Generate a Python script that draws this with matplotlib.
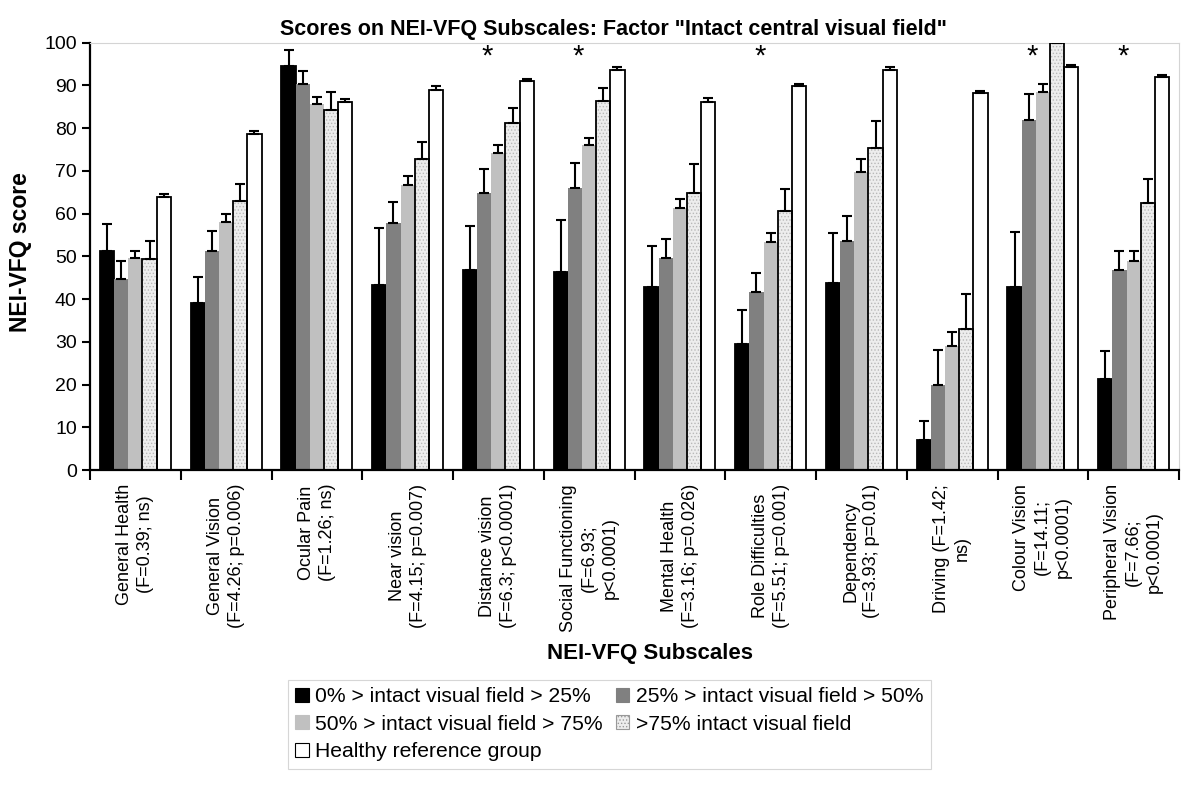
import matplotlib
matplotlib.use("Agg")
import matplotlib.pyplot as plt
from matplotlib.patches import Patch
import numpy as np

plt.rcParams["font.family"] = ["Liberation Sans", "DejaVu Sans"]
plt.rcParams["hatch.linewidth"] = 0.6

# Subscales (tick labels)
subscales = [
    "General Health\n(F=0.39; ns)",
    "General Vision\n(F=4.26; p=0.006)",
    "Ocular Pain\n(F=1.26; ns)",
    "Near vision\n(F=4.15; p=0.007)",
    "Distance vision\n(F=6.3; p<0.0001)",
    "Social Functioning\n(F=6.93;\np<0.0001)",
    "Mental Health\n(F=3.16; p=0.026)",
    "Role Difficulties\n(F=5.51; p=0.001)",
    "Dependency\n(F=3.93; p=0.01)",
    "Driving (F=1.42;\nns)",
    "Colour Vision\n(F=14.11;\np<0.0001)",
    "Peripheral Vision\n(F=7.66;\np<0.0001)",
]

group_labels = [
    "0% > intact visual field > 25%",
    "25% > intact visual field > 50%",
    "50% > intact visual field > 75%",
    ">75% intact visual field",
    "Healthy reference group",
]

# mean scores and upper error per group
vf_0_25 = [51.2, 39.1, 94.6, 43.4, 46.9, 46.4, 42.9, 29.4, 43.8, 7.0, 42.9, 21.3]
err_0_25 = [6.4, 6.0, 3.6, 13.2, 10.2, 12.2, 9.6, 8.0, 11.7, 4.5, 12.7, 6.6]
vf_25_50 = [44.7, 51.3, 90.4, 57.7, 64.9, 66.0, 49.6, 41.6, 53.7, 20.0, 81.8, 46.7]
err_25_50 = [4.2, 4.7, 2.9, 5.0, 5.6, 5.8, 4.4, 4.4, 5.8, 8.1, 6.1, 4.5]
vf_50_75 = [49.5, 58.1, 85.7, 66.6, 74.3, 76.0, 61.4, 53.4, 69.7, 29.0, 88.4, 49.0]
err_50_75 = [1.8, 1.7, 1.6, 2.1, 1.8, 1.8, 2.1, 2.1, 3.0, 3.2, 1.9, 2.3]
vf_75 = [49.4, 62.9, 84.2, 72.7, 81.3, 86.4, 64.9, 60.7, 75.3, 33.0, 100.0, 62.4]
err_75 = [4.3, 4.0, 4.3, 4.0, 3.4, 2.9, 6.6, 5.0, 6.4, 8.3, 0.0, 5.7]
healthy = [63.8, 78.7, 86.2, 89.0, 91.0, 93.6, 86.2, 89.9, 93.6, 88.3, 94.2, 91.9]
err_healthy = [0.7, 0.6, 0.6, 0.9, 0.6, 0.7, 0.8, 0.5, 0.7, 0.4, 0.6, 0.5]

significant = [4, 5, 7, 10, 11]

series = [
    (vf_0_25, err_0_25),
    (vf_25_50, err_25_50),
    (vf_50_75, err_50_75),
    (vf_75, err_75),
    (healthy, err_healthy),
]

fig = plt.figure(figsize=(12, 7.95), dpi=100)
ax = fig.add_axes([0.075, 0.4088, 0.9075, 0.5375])

x = np.arange(len(subscales))
width = 0.156
offsets = (np.arange(5) - 2) * width

faces = ["#000000", "#808080", "#c0c0c0", "#ededed", "#ffffff"]
edges = ["black", "none", "none", "black", "black"]

for i, (vals, errs) in enumerate(series):
    pos = x + offsets[i]
    if i == 3:
        # dotted fill first, black outline on top
        ax.bar(pos, vals, width, color=faces[i], edgecolor="#b8b8b8",
               linewidth=0, hatch=".....", zorder=2)
        ax.bar(pos, vals, width, fill=False, edgecolor="black",
               linewidth=1.3, zorder=3)
    else:
        ax.bar(pos, vals, width, color=faces[i], edgecolor=edges[i],
               linewidth=1.3 if edges[i] != "none" else 0, zorder=2)
    ax.errorbar(pos, vals, yerr=[np.zeros(len(errs)), errs], fmt="none",
                ecolor="black", elinewidth=1.5, capsize=3.6, capthick=1.5,
                zorder=4)

for i in significant:
    ax.text(x[i] - 0.12, 96.8, "*", ha="center", va="center", fontsize=21)

ax.set_xlim(-0.5, len(subscales) - 0.5)
ax.set_ylim(0, 100)
ax.set_yticks(np.arange(0, 101, 10))
ax.tick_params(axis="y", labelsize=14, length=6, width=1.5, direction="out")

ax.set_xticks(x)
ax.set_xticklabels(subscales, rotation=90, fontsize=13, ha="center",
                   va="top", multialignment="center", linespacing=1.3)
ax.tick_params(axis="x", which="major", length=0, pad=10)
ax.set_xticks(np.arange(-0.5, len(subscales), 1), minor=True)
ax.tick_params(axis="x", which="minor", length=7, width=1.5, direction="out")

for side in ["left", "bottom"]:
    ax.spines[side].set_linewidth(1.6)
    ax.spines[side].set_color("black")
for side in ["top", "right"]:
    ax.spines[side].set_linewidth(0.8)
    ax.spines[side].set_color("#d4d4d4")

fig.text(613 / 1200, 1 - 30 / 795,
         'Scores on NEI-VFQ Subscales: Factor "Intact central visual field"',
         ha="center", va="center", fontsize=15.5, fontweight="bold")
fig.text(21 / 1200, 1 - 252 / 795, "NEI-VFQ score", rotation=90,
         ha="center", va="center", fontsize=16.5, fontweight="bold")
fig.text(650 / 1200, 1 - 653 / 795, "NEI-VFQ Subscales",
         ha="center", va="center", fontsize=16, fontweight="bold")

handles = []
for i in range(5):
    if i == 3:
        handles.append(Patch(facecolor=faces[i], edgecolor="#999999",
                             hatch=".....", linewidth=0.8))
    elif i == 4:
        handles.append(Patch(facecolor=faces[i], edgecolor="black", linewidth=0.8))
    else:
        handles.append(Patch(facecolor=faces[i], edgecolor=faces[i], linewidth=0.8))

order = [0, 2, 4, 1, 3]
leg = fig.legend([handles[k] for k in order], [group_labels[k] for k in order],
                 ncol=2, loc="upper left",
                 bbox_to_anchor=(288 / 1200, 1 - 680 / 795),
                 fontsize=15.2, frameon=True, fancybox=False,
                 handlelength=0.65, handleheight=0.65, handletextpad=0.3,
                 columnspacing=0.6, labelspacing=0.4, borderpad=0.35,
                 borderaxespad=0)
leg.get_frame().set_edgecolor("#cccccc")
leg.get_frame().set_linewidth(0.8)

fig.savefig("out.png", dpi=100)
